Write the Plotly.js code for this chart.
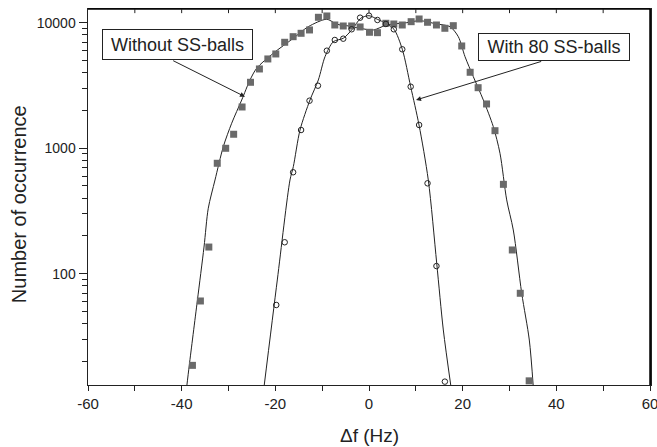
<!DOCTYPE html>
<html>
<head>
<meta charset="utf-8">
<script src="https://cdn.plot.ly/plotly-3.0.1.min.js"></script>
<style>html,body{margin:0;padding:0;background:#fff;}#chart{width:657px;height:447px;}</style>
</head>
<body>
<div id="chart"></div>
<script>
// Measured points: without SS-balls (filled squares)
var sqX = [-37.7,-36.0,-34.2,-32.4,-30.6,-28.9,-27.1,-25.3,-23.4,-21.6,-19.9,-18.0,-16.2,-14.5,-12.7,-10.8,-9.0,-7.3,-5.5,-3.7,-1.9,0.1,1.8,3.6,5.3,7.1,9.0,10.7,12.5,14.4,16.2,18.0,19.8,21.6,23.3,25.1,26.9,28.7,30.6,32.3,34.2];
var sqY = [18.6,60.6,163,758,998,1291,2129,3350,4277,5140,5633,6980,7735,8230,8750,11040,11310,9585,9412,9412,9245,8385,8324,9890,9763,9585,10185,10700,10073,9585,9024,9465,6523,4025,3034,2251,1378,515,154.5,69.8,14.0];
// Measured points: with 80 SS-balls (open circles)
var ciX = [-19.8,-18.0,-16.2,-14.5,-12.7,-10.9,-9.0,-7.3,-5.5,-3.7,-1.9,0,1.8,3.6,5.3,7.1,8.9,10.7,12.5,14.4,16.2];
var ciY = [56.3,178,643,1396,2390,3148,5980,7280,7456,8860,10960,11370,10510,9763,8860,6137,3090,1531,525,115,13.8];
// Fitted curves
var fitOutX = [-38.93,-38.37,-36.66,-35.23,-34.32,-32.88,-31.11,-29.32,-27.18,-25.41,-23.98,-20.44,-16.16,-12.96,-9.03,-7.26,-6.19,-4.76,-1.9,0.92,3.78,8.05,10.89,14.46,17.30,19.07,20.50,22.27,24.41,26.54,27.97,29.40,30.81,32.61,34.23,35.08];
var fitOutY = [12.5,18.7,60.6,163,332,558,1028,1579,2421,3495,4333,5704,7511,9292,10645,9890,9585,9465,9024,8750,9585,10000,10374,9763,9292,7735,5360,3715,2421,1484,910,387,223,69.8,29.6,12.5];
var fitInX = [-22.42,-19.58,-16.87,-16.16,-14.73,-12.60,-10.82,-9.39,-7.61,-5.49,-3.57,-1.77,0,1.77,3.57,5.34,7.11,8.9,10.68,12.66,14.46,15.87,17.51];
var fitInY = [12.5,89.1,558,712,1396,2421,3495,5360,7058,7514,8860,10840,11370,10645,9890,8860,6137,3090,1531,558,121,35.6,12.5];
// Tick labels
var xTickVals = [-60,-40,-20,0,20,40,60];
var xTickText = ['-60','-40','-20','0','20','40','60'];
var xMinorVals = [-50,-30,-10,10,30,50];
var xTopVals = [-50,-40,-30,-20,-10,0,10,20,30,40,50];
var yTickVals = [100,1000,10000];
var yTickText = ['100','1000','10000'];
var yMinorVals = [20,30,40,50,60,70,80,90,200,300,400,500,600,700,800,900,2000,3000,4000,5000,6000,7000,8000,9000];
var labelWithout = 'Without SS-balls';
var labelWith = 'With 80 SS-balls';

var ink = '#222222';
var fam = 'Liberation Sans, Arial, Helvetica, sans-serif';
var xr = [-60, 60];
var yr = [1.113, 4.109];

var traces = [
  {x: fitOutX, y: fitOutY, mode: 'lines', line: {color: ink, width: 1, shape: 'spline', smoothing: 0.8}, hoverinfo: 'skip', showlegend: false},
  {x: fitInX, y: fitInY, mode: 'lines', line: {color: ink, width: 1, shape: 'spline', smoothing: 0.8}, hoverinfo: 'skip', showlegend: false},
  {x: sqX, y: sqY, mode: 'markers', name: labelWithout, marker: {symbol: 'square', size: 7, color: '#6a6a6a', line: {width: 0}}, showlegend: false},
  {x: ciX, y: ciY, mode: 'markers', name: labelWith, marker: {symbol: 'circle-open', size: 5.5, color: ink, line: {width: 1, color: ink}}, showlegend: false}
];

// Frame and inward ticks on the top and right sides, built from the tick arrays
var shapes = [
  {type: 'line', xref: 'paper', yref: 'paper', x0: 0, x1: 1, y0: 1, y1: 1, layer: 'above', line: {color: '#000', width: 1.5}},
  {type: 'line', xref: 'paper', yref: 'paper', x0: 1, x1: 1, y0: 0, y1: 1, layer: 'above', line: {color: '#000', width: 1.5}}
];
xTopVals.forEach(function (v) {
  shapes.push({type: 'line', xref: 'x', yref: 'paper', x0: v, x1: v, y0: 1, y1: 0.989, layer: 'above', line: {color: ink, width: 1}});
});
yTickVals.forEach(function (v) {
  shapes.push({type: 'line', xref: 'paper', yref: 'y', x0: 1, x1: 0.9858, y0: Math.log10(v), y1: Math.log10(v), layer: 'above', line: {color: ink, width: 1}});
});
yMinorVals.forEach(function (v) {
  shapes.push({type: 'line', xref: 'paper', yref: 'y', x0: 1, x1: 0.9911, y0: Math.log10(v), y1: Math.log10(v), layer: 'above', line: {color: ink, width: 1}});
});

var layout = {
  width: 657, height: 447,
  margin: {l: 88, r: 7, t: 9, b: 62},
  paper_bgcolor: '#fff', plot_bgcolor: '#fff',
  font: {family: fam, color: ink},
  xaxis: {
    range: xr, tickmode: 'array', tickvals: xTickVals, ticktext: xTickText,
    ticks: 'outside', ticklen: 5, tickwidth: 1, tickcolor: ink, ticklabeloverflow: 'allow',
    showline: true, mirror: true, linecolor: ink, linewidth: 1.2, showgrid: false, zeroline: false,
    tickfont: {family: fam, size: 15, color: ink},
    minor: {tickmode: 'array', tickvals: xMinorVals, ticks: 'outside', ticklen: 5, tickwidth: 1, tickcolor: ink, showgrid: false}
  },
  yaxis: {
    type: 'log', range: yr, tickmode: 'array', tickvals: yTickVals, ticktext: yTickText,
    ticks: 'outside', ticklen: 8, tickwidth: 1, tickcolor: ink,
    showline: true, mirror: true, linecolor: ink, linewidth: 1.5, showgrid: false, zeroline: false,
    tickfont: {family: fam, size: 14, color: ink},
    minor: {tickmode: 'array', tickvals: yMinorVals, ticks: 'outside', ticklen: 5, tickwidth: 1, tickcolor: ink, showgrid: false}
  },
  shapes: shapes,
  annotations: [
    {xref: 'x', yref: 'y', axref: 'x', ayref: 'y', x: -26.48, y: 3.4104, ax: -42.13, ay: 3.703, text: '', showarrow: true, arrowhead: 2, arrowsize: 1, arrowwidth: 1, arrowcolor: ink, standoff: 0},
    {xref: 'x', yref: 'y', axref: 'x', ayref: 'y', x: 10.04, y: 3.384, ax: 37.09, ay: 3.6948, text: '', showarrow: true, arrowhead: 2, arrowsize: 1, arrowwidth: 1, arrowcolor: ink, standoff: 0},
    {xref: 'paper', yref: 'paper', x: 0.0244, y: 0.946, xanchor: 'left', yanchor: 'top', text: labelWithout, showarrow: false,
     width: 149, height: 29, borderpad: 0, bordercolor: ink, borderwidth: 1, bgcolor: '#fff', font: {family: fam, size: 18, color: ink}},
    {xref: 'paper', yref: 'paper', x: 0.6934, y: 0.9354, xanchor: 'left', yanchor: 'top', text: labelWith, showarrow: false,
     width: 150, height: 26, borderpad: 0, bordercolor: ink, borderwidth: 1, bgcolor: '#fff', font: {family: fam, size: 18, color: ink}},
    {xref: 'paper', yref: 'paper', x: -0.1228, y: 0.481, xanchor: 'center', yanchor: 'middle', textangle: -90, text: 'Number of occurrence', showarrow: false,
     font: {family: fam, size: 20, color: ink}},
    {xref: 'paper', yref: 'paper', x: 0.5, y: -0.1037, xanchor: 'center', yanchor: 'top', text: '\u0394f (Hz)', showarrow: false,
     borderpad: 0, font: {family: fam, size: 19, color: ink}}
  ]
};

Plotly.newPlot('chart', traces, layout, {displayModeBar: false, staticPlot: true});
</script>
</body>
</html>
